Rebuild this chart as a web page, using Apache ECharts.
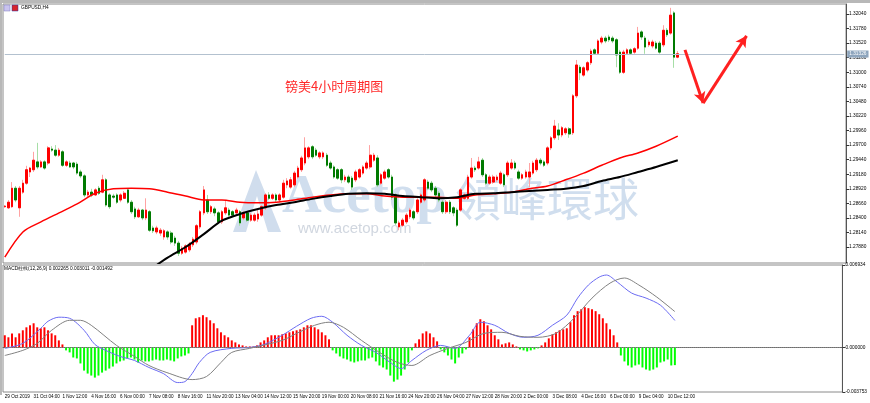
<!DOCTYPE html>
<html>
<head>
<meta charset="utf-8">
<script src="https://cdn.jsdelivr.net/npm/echarts@6/dist/echarts.min.js"></script>
<style>
html, body { margin: 0; padding: 0; background: #fff; }
#main { width: 870px; height: 403px; }
</style>
</head>
<body>
<div id="main"></div>
<script>
// GBPUSD H4 candles, 29 Oct 2019 20:00 -> 11 Dec 2019
const tickLabels = ['29 Oct 2019', '31 Oct 04:00', '1 Nov 12:00', '4 Nov 16:00', '6 Nov 00:00', '7 Nov 08:00',
  '8 Nov 16:00', '11 Nov 20:00', '13 Nov 04:00', '14 Nov 12:00', '15 Nov 20:00', '19 Nov 00:00',
  '20 Nov 08:00', '21 Nov 16:00', '24 Nov 20:00', '26 Nov 04:00', '27 Nov 12:00', '28 Nov 20:00',
  '2 Dec 00:00', '3 Dec 08:00', '4 Dec 16:00', '6 Dec 00:00', '9 Dec 04:00', '10 Dec 12:00'];

const opens = [
  1.2860,1.2858,1.2860,1.2893,1.2858,1.2886,1.2902,1.2922,1.2926,1.2940,
  1.2931,1.2940,1.2938,1.2963,1.2961,1.2952,1.2958,1.2934,1.2938,1.2938,
  1.2936,1.2922,1.2915,1.2881,1.2886,1.2881,1.2893,1.2886,1.2908,1.2881,
  1.2879,1.2881,1.2872,1.2875,1.2890,1.2868,1.2856,1.2842,1.2854,1.2840,
  1.2851,1.2822,1.2815,1.2813,1.2806,1.2815,1.2813,1.2804,1.2795,1.2777,
  1.2779,1.2783,1.2792,1.2797,1.2824,1.2849,1.2872,1.2851,1.2856,1.2849,
  1.2833,1.2849,1.2854,1.2851,1.2849,1.2851,1.2840,1.2849,1.2836,1.2836,
  1.2838,1.2845,1.2858,1.2881,1.2875,1.2881,1.2872,1.2877,1.2899,1.2895,
  1.2899,1.2913,1.2926,1.2938,1.2949,1.2967,1.2961,1.2949,1.2949,1.2952,
  1.2938,1.2931,1.2926,1.2926,1.2908,1.2913,1.2911,1.2908,1.2913,1.2920,
  1.2929,1.2931,1.2943,1.2947,1.2902,1.2911,1.2926,1.2913,1.2881,1.2824,
  1.2827,1.2833,1.2842,1.2851,1.2851,1.2868,1.2872,1.2904,1.2902,1.2893,
  1.2884,1.2868,1.2851,1.2868,1.2858,1.2854,1.2854,1.2875,1.2875,1.2913,
  1.2929,1.2929,1.2943,1.2917,1.2902,1.2904,1.2908,1.2902,1.2917,1.2917,
  1.2929,1.2938,1.2922,1.2911,1.2913,1.2913,1.2920,1.2926,1.2943,1.2940,
  1.2938,1.2965,1.2983,1.2997,1.2988,1.2992,1.2999,1.2992,1.3058,1.3109,
  1.3095,1.3104,1.3117,1.3140,1.3134,1.3154,1.3161,1.3163,1.3161,1.3158,
  1.3136,1.3100,1.3134,1.3140,1.3136,1.3143,1.3172,1.3161,1.3149,1.3147,
  1.3152,1.3152,1.3149,1.3175,1.3170,1.3206,1.3127];
const closes = [
  1.2861,1.2868,1.2893,1.2872,1.2893,1.2902,1.2926,1.2929,1.2943,1.2931,
  1.2940,1.2929,1.2965,1.2961,1.2952,1.2961,1.2934,1.2940,1.2931,1.2931,
  1.2920,1.2915,1.2881,1.2886,1.2881,1.2890,1.2884,1.2908,1.2863,1.2860,
  1.2877,1.2868,1.2881,1.2884,1.2868,1.2851,1.2842,1.2854,1.2840,1.2854,
  1.2818,1.2817,1.2822,1.2818,1.2817,1.2806,1.2797,1.2795,1.2777,1.2786,
  1.2790,1.2793,1.2802,1.2826,1.2851,1.2890,1.2851,1.2860,1.2849,1.2833,
  1.2851,1.2858,1.2845,1.2845,1.2854,1.2831,1.2849,1.2836,1.2845,1.2845,
  1.2847,1.2860,1.2881,1.2875,1.2881,1.2872,1.2881,1.2902,1.2906,1.2908,
  1.2920,1.2929,1.2947,1.2965,1.2965,1.2949,1.2952,1.2956,1.2956,1.2934,
  1.2929,1.2913,1.2911,1.2908,1.2913,1.2904,1.2895,1.2922,1.2926,1.2931,
  1.2938,1.2952,1.2952,1.2899,1.2917,1.2922,1.2913,1.2877,1.2831,1.2831,
  1.2836,1.2845,1.2854,1.2840,1.2872,1.2881,1.2908,1.2893,1.2890,1.2881,
  1.2872,1.2851,1.2868,1.2851,1.2849,1.2827,1.2890,1.2881,1.2913,1.2929,
  1.2926,1.2940,1.2917,1.2902,1.2913,1.2913,1.2913,1.2920,1.2899,1.2938,
  1.2938,1.2929,1.2911,1.2917,1.2922,1.2922,1.2938,1.2943,1.2938,1.2934,
  1.2965,1.2983,1.3004,1.2988,1.3001,1.2999,1.2990,1.3058,1.3113,1.3099,
  1.3108,1.3117,1.3138,1.3134,1.3156,1.3161,1.3156,1.3158,1.3156,1.3131,
  1.3100,1.3136,1.3140,1.3134,1.3142,1.3170,1.3163,1.3145,1.3154,1.3154,
  1.3143,1.3136,1.3175,1.3167,1.3202,1.3127,1.3133];
const lows = [
  1.2858,1.2856,1.2858,1.2868,1.2842,1.2883,1.2899,1.2913,1.2922,1.2927,
  1.2929,1.2926,1.2934,1.2958,1.2949,1.2949,1.2931,1.2931,1.2929,1.2927,
  1.2917,1.2911,1.2877,1.2877,1.2877,1.2879,1.2881,1.2884,1.2860,1.2856,
  1.2874,1.2865,1.2868,1.2874,1.2865,1.2847,1.2838,1.2840,1.2836,1.2836,
  1.2815,1.2813,1.2811,1.2808,1.2801,1.2801,1.2793,1.2790,1.2772,1.2774,
  1.2776,1.2779,1.2788,1.2793,1.2820,1.2845,1.2847,1.2847,1.2843,1.2829,
  1.2829,1.2845,1.2842,1.2842,1.2845,1.2826,1.2836,1.2833,1.2833,1.2833,
  1.2833,1.2842,1.2854,1.2872,1.2872,1.2868,1.2868,1.2874,1.2893,1.2892,
  1.2895,1.2910,1.2922,1.2934,1.2945,1.2945,1.2949,1.2945,1.2945,1.2931,
  1.2926,1.2910,1.2908,1.2902,1.2904,1.2901,1.2890,1.2904,1.2910,1.2917,
  1.2926,1.2927,1.2940,1.2895,1.2899,1.2908,1.2910,1.2872,1.2827,1.2818,
  1.2824,1.2829,1.2838,1.2836,1.2847,1.2865,1.2868,1.2890,1.2886,1.2877,
  1.2868,1.2847,1.2847,1.2847,1.2843,1.2824,1.2851,1.2872,1.2872,1.2910,
  1.2922,1.2926,1.2913,1.2899,1.2899,1.2901,1.2904,1.2899,1.2895,1.2913,
  1.2926,1.2926,1.2908,1.2908,1.2910,1.2895,1.2917,1.2922,1.2934,1.2931,
  1.2934,1.2961,1.2979,1.2979,1.2984,1.2988,1.2983,1.2988,1.3054,1.3086,
  1.3092,1.3100,1.3113,1.3131,1.3131,1.3150,1.3152,1.3154,1.3152,1.3109,
  1.3097,1.3097,1.3131,1.3131,1.3133,1.3140,1.3158,1.3133,1.3145,1.3143,
  1.3140,1.3133,1.3145,1.3163,1.3167,1.3108,1.3125];
const highs = [
  1.2863,1.2872,1.2904,1.2897,1.2897,1.2908,1.2933,1.2931,1.2958,1.2974,
  1.2943,1.2943,1.2968,1.2968,1.2970,1.2965,1.2961,1.2943,1.2942,1.2940,
  1.2940,1.2926,1.2918,1.2890,1.2892,1.2893,1.2897,1.2917,1.2911,1.2884,
  1.2883,1.2884,1.2884,1.2888,1.2893,1.2872,1.2860,1.2858,1.2856,1.2875,
  1.2854,1.2826,1.2826,1.2822,1.2820,1.2818,1.2817,1.2808,1.2799,1.2790,
  1.2793,1.2797,1.2806,1.2829,1.2854,1.2897,1.2881,1.2863,1.2860,1.2852,
  1.2854,1.2872,1.2858,1.2854,1.2858,1.2854,1.2852,1.2852,1.2849,1.2849,
  1.2854,1.2863,1.2884,1.2886,1.2884,1.2884,1.2884,1.2908,1.2911,1.2913,
  1.2924,1.2933,1.2951,1.2984,1.2968,1.2970,1.2965,1.2959,1.2959,1.2956,
  1.2942,1.2934,1.2929,1.2929,1.2917,1.2917,1.2915,1.2926,1.2929,1.2934,
  1.2942,1.2970,1.2956,1.2952,1.2920,1.2926,1.2929,1.2917,1.2884,1.2835,
  1.2840,1.2849,1.2858,1.2854,1.2875,1.2884,1.2911,1.2908,1.2906,1.2897,
  1.2888,1.2872,1.2872,1.2872,1.2861,1.2858,1.2893,1.2884,1.2917,1.2947,
  1.2933,1.2949,1.2947,1.2920,1.2917,1.2917,1.2917,1.2924,1.2920,1.2942,
  1.2945,1.2942,1.2926,1.2920,1.2926,1.2938,1.2942,1.2947,1.2947,1.2943,
  1.2968,1.2986,1.3015,1.3009,1.3004,1.3002,1.3002,1.3061,1.3122,1.3113,
  1.3111,1.3120,1.3142,1.3143,1.3159,1.3165,1.3165,1.3167,1.3165,1.3161,
  1.3140,1.3140,1.3143,1.3143,1.3145,1.3181,1.3175,1.3165,1.3158,1.3158,
  1.3156,1.3156,1.3184,1.3179,1.3215,1.3209,1.3138];

// moving averages, read every few bars
const maRedBars = [0,5,10,15,20,25,30,35,40,45,50,55,60,65,70,75,80,85,90,95,100,105,110,115,120,125,130,135,140,145,150,155,160,165,170,175,180,186];
const maRed = [1.2770,1.2815,1.2833,1.2849,1.2865,1.2884,1.2892,1.2893,1.2892,1.2886,1.2879,1.2872,1.2872,1.2868,1.2867,1.2868,1.2872,1.2877,1.2881,1.2883,
  1.2883,1.2879,1.2877,1.2877,1.2877,1.2875,1.2881,1.2883,1.2886,1.2892,1.2897,1.2908,1.2920,1.2934,1.2947,1.2956,1.2968,1.2986];
const maBlackBars = [40,45,50,55,60,65,70,75,80,85,90,95,100,105,110,115,120,125,130,135,140,145,150,155,160,165,170,175,180,186];
const maBlack = [1.2747,1.2769,1.2788,1.2811,1.2835,1.2847,1.2856,1.2863,1.2868,1.2874,1.2879,1.2883,1.2884,1.2883,1.2879,1.2877,1.2875,1.2877,1.2883,1.2884,
  1.2886,1.2888,1.2890,1.2892,1.2897,1.2906,1.2913,1.2922,1.2931,1.2943];

// MACD panel
const histogram = [
  0.00102,0.00085,0.00118,0.00085,0.00118,0.00144,0.00169,0.00186,0.00203,0.00169,
  0.00161,0.00169,0.00144,0.00118,0.00102,0.00059,0.00025,
  -0.00025,-0.00042,-0.00085,-0.00093,-0.00135,-0.00195,-0.00220,-0.00237,-0.00254,-0.00237,
  -0.00212,-0.00195,-0.00178,-0.00161,-0.00135,-0.00118,-0.00110,-0.00093,-0.00085,-0.00102,
  -0.00127,-0.00110,-0.00118,-0.00118,-0.00110,-0.00102,-0.00110,-0.00110,-0.00102,-0.00110,
  -0.00118,-0.00093,-0.00076,-0.00068,-0.00051,
  0.00186,0.00245,0.00254,0.00271,0.00254,0.00228,0.00203,0.00161,0.00127,0.00102,
  0.00085,0.00059,0.00042,0.00025,0.00017,0.00008,0.00008,0.00008,0.00017,0.00042,
  0.00059,0.00085,0.00102,0.00102,0.00102,0.00110,0.00118,0.00127,0.00135,0.00144,
  0.00152,0.00169,0.00186,0.00186,0.00169,0.00152,0.00127,0.00102,0.00068,
  -0.00025,-0.00051,-0.00076,-0.00093,-0.00102,-0.00118,-0.00127,-0.00118,-0.00110,-0.00110,
  -0.00093,-0.00085,-0.00118,-0.00152,-0.00169,-0.00186,-0.00237,-0.00288,-0.00271,-0.00237,
  -0.00186,-0.00127,
  -0.00025,0.00034,0.00068,0.00118,0.00135,0.00118,0.00085,0.00051,
  -0.00017,-0.00042,-0.00068,-0.00102,-0.00135,-0.00085,-0.00051,-0.00017,
  0.00085,0.00152,0.00203,0.00237,0.00220,0.00186,0.00152,0.00102,0.00068,0.00025,
  0.00034,0.00042,0.00025,0.00008,
  -0.00017,-0.00025,-0.00034,-0.00025,-0.00017,-0.00008,
  0.00017,0.00042,0.00076,0.00110,0.00127,0.00144,0.00152,0.00161,0.00212,0.00271,
  0.00305,0.00321,0.00338,0.00330,0.00321,0.00305,0.00279,0.00245,0.00203,0.00152,
  0.00102,0.00042,
  -0.00068,-0.00118,-0.00152,-0.00169,-0.00152,-0.00144,-0.00169,-0.00186,-0.00195,-0.00186,
  -0.00169,-0.00127,-0.00118,-0.00102,-0.00152,-0.001492];
const macdBars = [0,5,10,12,15,18,22,25,28,32,36,40,44,48,50,52,54,57,63,68,72,77,81,85,88,91,95,99,103,107,
  110,113,117,121,125,129,132,136,140,144,148,152,156,159,162,165,167,170,174,178,182,186];
const macdLine = [-0.00008,0.00034,0.00161,0.00220,0.00254,0.00245,0.00144,0.00025,-0.00025,-0.00076,
  -0.00110,-0.00169,-0.00220,-0.00296,-0.00288,-0.00220,-0.00127,-0.00042,-0.00008,0.00000,
  0.00025,0.00102,0.00178,0.00245,0.00262,0.00212,0.00102,0.00017,-0.00042,-0.00127,
  -0.00178,-0.00110,-0.00025,0.00017,-0.00008,0.00102,0.00212,0.00186,0.00118,0.00085,
  0.00102,0.00186,0.00271,0.00415,0.00525,0.00592,0.00609,0.00550,0.00457,0.00415,
  0.00355,0.002265];
const signalBars = [0,5,9,13,18,21,24,31,36,40,45,52,56,60,63,68,77,81,86,90,94,99,104,109,113,118,123,128,133,138,
  143,148,153,158,163,168,172,176,181,186];
const signalLine = [-0.00068,-0.00025,0.00034,0.00144,0.00228,0.00228,0.00186,0.00017,-0.00076,-0.00152,
  -0.00212,-0.00271,-0.00245,-0.00127,-0.00042,-0.00008,0.00059,0.00118,0.00186,0.00212,
  0.00169,0.00059,-0.00042,-0.00127,-0.00152,-0.00068,-0.00008,0.00042,0.00118,0.00127,
  0.00093,0.00085,0.00118,0.00245,0.00415,0.00541,0.00584,0.00525,0.00423,0.003011];

const priceTicks = [1.27880,1.28140,1.28400,1.28660,1.28920,1.29180,1.29440,1.29700,1.29960,1.30220,
  1.30480,1.30740,1.31000,1.31260,1.31520,1.31780,1.32040];
const macdTicks = [-0.003753, 0, 0.006934];
const lastPrice = 1.31326;

// hand-drawn arrows (bar index / price)
const arrowBars = [188, 193, 205];
const arrowPrices = [1.3140, 1.3045, 1.3165];

const slotCount = 233;
const categories = Array.from({ length: slotCount }, (_, i) => i);
const showTick = (idx) => idx % 8 === 0 && idx / 8 < tickLabels.length;

const wickData = opens.map((o, i) => [o, closes[i], lows[i], highs[i]]);
const bodyData = opens.map((o, i) => [o, closes[i], Math.min(o, closes[i]), Math.max(o, closes[i])]);

const font = 'Liberation Sans';

const myChart = echarts.init(document.getElementById('main'));
myChart.setOption({
  animation: false,
  grid: [
    { left: 3, top: 4, width: 843, height: 259, show: true, borderColor: '#8a8a8a', borderWidth: 1 },
    { left: 3, top: 265, width: 843, height: 127, show: true, borderColor: '#8a8a8a', borderWidth: 1 }
  ],
  xAxis: [
    {
      type: 'category', gridIndex: 0, data: categories, boundaryGap: true,
      axisLine: { show: false }, axisTick: { show: false }, axisLabel: { show: false }, splitLine: { show: false }
    },
    {
      type: 'category', gridIndex: 1, data: categories, boundaryGap: true,
      axisLine: { lineStyle: { color: '#666' } },
      axisTick: { interval: showTick, length: 5, lineStyle: { color: '#333' } },
      axisLabel: {
        interval: showTick, align: 'left', margin: 2,
        showMinLabel: true, showMaxLabel: true, hideOverlap: false,
        fontSize: 4.6, color: '#000', fontFamily: font,
        formatter: (v, idx) => tickLabels[idx / 8] || ''
      },
      splitLine: { show: false }
    }
  ],
  yAxis: [
    {
      type: 'value', gridIndex: 0, position: 'right', min: 1.27595, max: 1.32219,
      axisLine: { show: true, lineStyle: { color: '#555' } },
      axisTick: { show: true, customValues: priceTicks, length: 3, lineStyle: { color: '#333' } },
      axisLabel: { customValues: priceTicks, margin: 3, fontSize: 4.8, color: '#000', fontFamily: font, formatter: (v) => v.toFixed(5) },
      splitLine: { show: false }
    },
    {
      type: 'value', gridIndex: 1, position: 'right', min: -0.003753, max: 0.006934,
      axisLine: { show: true, lineStyle: { color: '#555' } },
      axisTick: { show: true, customValues: macdTicks, length: 3, lineStyle: { color: '#333' } },
      axisLabel: { customValues: macdTicks, margin: 3, fontSize: 4.8, color: '#000', fontFamily: font, formatter: (v) => v.toFixed(6) },
      splitLine: { show: false }
    }
  ],
  graphic: [
    { type: 'rect', z: 100, shape: { x: 0, y: 0, width: 870, height: 3 }, style: { fill: '#b8b8b8' } },
    { type: 'rect', z: 100, shape: { x: 0, y: 0, width: 2, height: 395 }, style: { fill: '#b8b8b8' } },
    { type: 'rect', z: 100, shape: { x: 4, y: 5, width: 6, height: 6 }, style: { fill: '#c9c3ee', stroke: '#7d78c0', lineWidth: 0.5 } },
    { type: 'rect', z: 100, shape: { x: 12, y: 5, width: 6, height: 6 }, style: { fill: '#d8262b', stroke: '#2b3aa8', lineWidth: 0.5 } },
    { type: 'text', z: 100, left: 21, top: 5, style: { text: 'GBPUSD,H4', fontSize: 4.8, fill: '#000', fontFamily: font } },
    { type: 'text', z: 100, left: 285, top: 80, style: { text: '镑美4小时周期图', fontSize: 13, fill: '#ff2b2b', fontFamily: 'Noto Sans CJK SC' } },
    { type: 'text', z: 100, left: 4, top: 266, style: { text: 'MACD柱线(12,26,9) 0.002265 0.003011 -0.001492', fontSize: 4.8, fill: '#000', fontFamily: font } },
    // watermark
    { type: 'polygon', z: 0, shape: { points: [[256, 170], [233, 232], [246, 232], [257, 196], [268, 232], [281, 232]] }, style: { fill: 'rgba(150,180,215,0.45)' } },
    { type: 'text', z: 0, left: 282, top: 170, style: { text: 'Acetop', fontSize: 55, fontWeight: 'bold', fontFamily: 'Liberation Serif', fill: 'rgba(150,182,218,0.45)' } },
    { type: 'text', z: 0, left: 455, top: 176, style: { text: '領峰環球', fontSize: 46, fontFamily: 'Noto Sans CJK TC', fill: 'rgba(150,182,218,0.45)' } },
    { type: 'text', z: 0, left: 298, top: 221, style: { text: 'www.acetop.com', fontSize: 15, fontFamily: 'Liberation Sans', fill: 'rgba(150,165,185,0.45)' } }
  ],
  series: [
    {
      name: 'wicks', type: 'candlestick', xAxisIndex: 0, yAxisIndex: 0, data: wickData, barWidth: '58%',
      itemStyle: { color: '#ffa3a3', color0: '#a6dea6', borderColor: '#ffa3a3', borderColor0: '#a6dea6', borderWidth: 1 }
    },
    {
      name: 'bodies', type: 'candlestick', xAxisIndex: 0, yAxisIndex: 0, data: bodyData, barWidth: '58%',
      itemStyle: { color: '#ff0000', color0: '#007a00', borderColor: '#ff0000', borderColor0: '#007a00', borderWidth: 1 }
    },
    {
      name: 'MA red', type: 'line', xAxisIndex: 0, yAxisIndex: 0, showSymbol: false, smooth: 0.3,
      data: maRedBars.map((b, i) => [b, maRed[i]]),
      lineStyle: { color: '#ff0000', width: 1.5 },
      markLine: {
        silent: true, symbol: 'none',
        data: [[{ coord: [0, lastPrice] }, { coord: [slotCount - 1, lastPrice] }]],
        lineStyle: { color: '#b3c1cf', width: 1, type: 'solid' },
        label: { position: 'end', distance: 3, formatter: lastPrice.toFixed(5), backgroundColor: '#8ea5bd', color: '#fff', fontSize: 4.8, fontFamily: font, padding: [1, 2] }
      }
    },
    {
      name: 'MA black', type: 'line', xAxisIndex: 0, yAxisIndex: 0, showSymbol: false, smooth: 0.3,
      data: maBlackBars.map((b, i) => [b, maBlack[i]]),
      lineStyle: { color: '#000', width: 2 },
      markLine: {
        silent: true, symbol: ['none', 'arrow'], symbolSize: [9, 11],
        label: { show: false },
        lineStyle: { color: '#ff2020', width: 3, type: 'solid' },
        data: [
          [{ coord: [arrowBars[0], arrowPrices[0]] }, { coord: [arrowBars[1], arrowPrices[1]] }],
          [{ coord: [arrowBars[1], arrowPrices[1]] }, { coord: [arrowBars[2], arrowPrices[2]] }]
        ]
      }
    },
    {
      name: 'MACD hist', type: 'bar', xAxisIndex: 1, yAxisIndex: 1, barWidth: '55%',
      data: histogram.map((v) => ({ value: v, itemStyle: { color: v >= 0 ? '#ff0000' : '#00ff00' } })),
      markLine: {
        silent: true, symbol: 'none', label: { show: false },
        data: [[{ coord: [0, 0] }, { coord: [slotCount - 1, 0] }]],
        lineStyle: { color: '#8c8c8c', width: 1, type: 'dotted' }
      }
    },
    {
      name: 'MACD', type: 'line', xAxisIndex: 1, yAxisIndex: 1, showSymbol: false, smooth: 0.3,
      data: macdBars.map((b, i) => [b, macdLine[i]]),
      lineStyle: { color: '#6b6bf2', width: 1 }
    },
    {
      name: 'Signal', type: 'line', xAxisIndex: 1, yAxisIndex: 1, showSymbol: false, smooth: 0.3,
      data: signalBars.map((b, i) => [b, signalLine[i]]),
      lineStyle: { color: '#808080', width: 1 }
    }
  ]
});
</script>
</body>
</html>
